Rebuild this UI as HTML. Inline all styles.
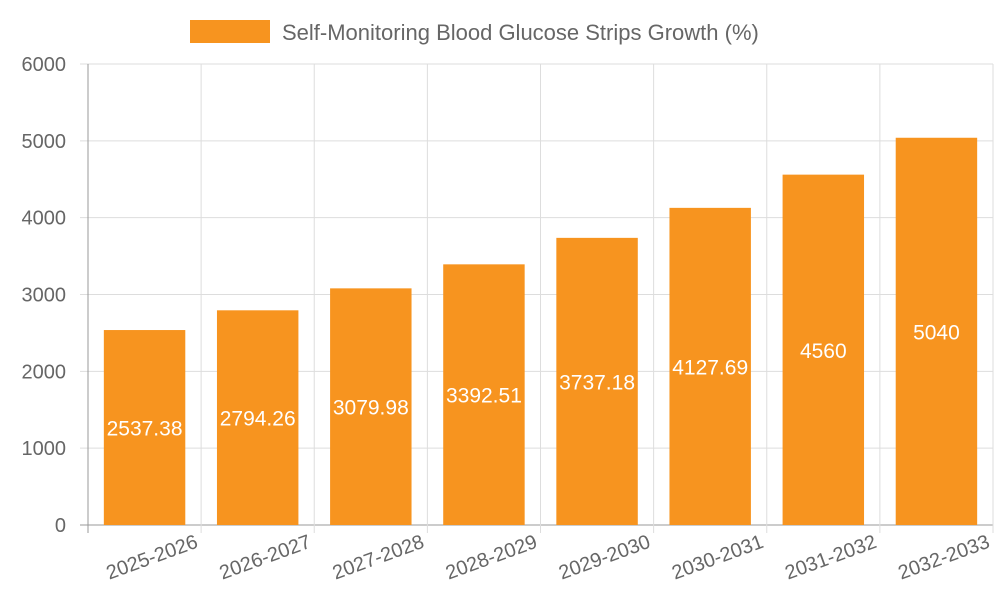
<!DOCTYPE html>
<html><head><meta charset="utf-8"><style>body{margin:0;background:#fff}svg{display:block;font-family:"Liberation Sans",sans-serif}</style></head>
<body>
<svg id="c" width="1000" height="600"></svg>
<script>
const categories=["2025-2026","2026-2027","2027-2028","2028-2029","2029-2030","2030-2031","2031-2032","2032-2033"];
const values=[2537.38,2794.26,3079.98,3392.51,3737.18,4127.69,4560,5040];
const valueLabels=["2537.38","2794.26","3079.98","3392.51","3737.18","4127.69","4560","5040"];
const yTicks=[0,1000,2000,3000,4000,5000,6000];
const svg=document.getElementById('c');const NS='http://www.w3.org/2000/svg';
const L=88,R=993,T=64,B=525,yMax=6000;
const y=v=>B-(v/yMax)*(B-T);const step=(R-L)/categories.length;const x=i=>L+step*i;
function el(t,a,p){const e=document.createElementNS(NS,t);for(const k in a)e.setAttribute(k,a[k]);(p||svg).appendChild(e);return e;}
// legend
const lg=el('g',{});


el('rect',{x:190,y:20,width:80,height:23,fill:'#f7941f'},lg);
const lt=el('text',{x:282,y:40,'font-size':22,fill:'#666'},lg);lt.textContent='Self-Monitoring Blood Glucose Strips Growth (%)';
// grid
yTicks.forEach(t=>{const l=el('line',{x1:L-8,x2:R,y1:y(t),y2:y(t),stroke:t===0?'#999':'#ddd'});


const tx=el('text',{x:66,y:y(t)+7,'font-size':20,fill:'#666','text-anchor':'end'});tx.textContent=t;

});
for(let i=0;i<=categories.length;i++){const l=el('line',{x1:x(i),x2:x(i),y1:T,y2:B+8,stroke:i===0?'#999':'#ddd'});

}
// bars
const bw=step*0.72;
values.forEach((v,i)=>{const cx=x(i)+step/2;
const r=el('rect',{x:cx-bw/2,y:y(v),width:bw,height:B-y(v),fill:'#f7941f'});


const t=el('text',{x:cx,y:(y(v)+B)/2+8,'font-size':21,fill:'#fff','text-anchor':'middle'});t.textContent=valueLabels[i];


const xl=el('text',{x:0,y:0,'font-size':20,fill:'#666','text-anchor':'end',transform:`translate(${x(i)+step-2},${B+22}) rotate(-20)`});xl.textContent=categories[i];

});
</script>
</body></html>
